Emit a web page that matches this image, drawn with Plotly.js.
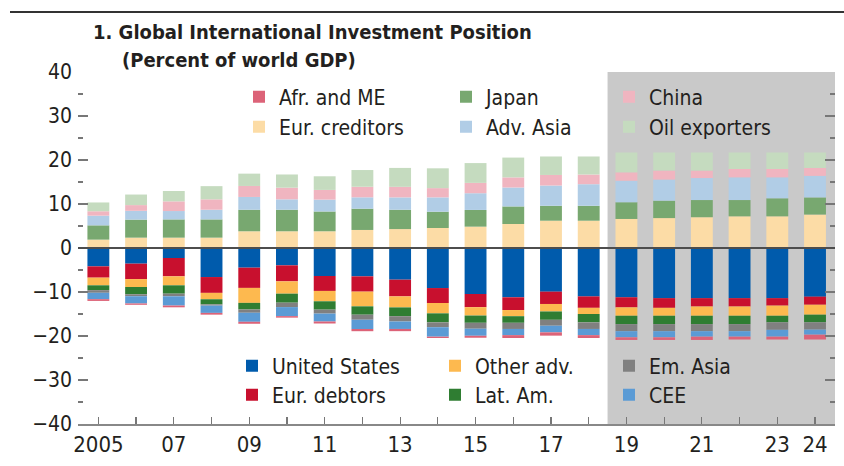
<!DOCTYPE html>
<html>
<head>
<meta charset="utf-8">
<script src="https://cdn.plot.ly/plotly-3.0.1.min.js"></script>
<style>html,body{margin:0;padding:0;background:#fff;}#chart{width:844px;height:466px;}</style>
</head>
<body>
<div id="chart"></div>
<script>
// ---- Data (percent of world GDP) ----
const years = [2005,2006,2007,2008,2009,2010,2011,2012,2013,2014,2015,2016,2017,2018,2019,2020,2021,2022,2023,2024];
const tickLabels = ['2005','','07','','09','','11','','13','','15','','17','','19','','21','','23','24'];

// Creditors (positive)
const eurCreditors = [1.9,2.35,2.35,2.35,3.8,3.8,3.8,4.1,4.3,4.55,4.85,5.45,6.2,6.2,6.6,6.8,7.0,7.2,7.2,7.6];
const japan        = [3.25,4.1,4.15,4.15,4.9,4.9,4.5,4.84,4.4,3.7,3.8,4.0,3.4,3.4,3.8,3.96,3.9,3.7,4.1,3.9];
const advAsia      = [2.2,2.0,1.9,2.2,2.9,2.36,2.7,2.58,2.8,3.26,3.8,4.3,4.6,4.9,4.9,4.8,5.0,5.16,4.76,4.9];
const china        = [1.0,1.3,2.2,2.36,2.5,2.65,2.2,2.4,2.4,2.1,2.35,2.3,2.4,2.2,1.9,2.05,1.7,1.9,1.9,1.8];
const oilExporters = [2.0,2.4,2.35,3.0,2.8,3.0,3.1,3.8,4.3,4.5,4.5,4.5,4.2,4.1,4.5,4.1,4.1,3.75,3.75,3.5];

// Debtors (negative)
const unitedStates = [-4.17,-3.56,-2.27,-6.6,-4.47,-3.94,-6.36,-6.44,-7.2,-9.1,-10.45,-11.2,-9.92,-11.0,-11.2,-11.4,-11.4,-11.4,-11.4,-11.06];
const eurDebtors   = [-2.57,-3.5,-4.17,-3.6,-4.6,-3.64,-3.4,-3.48,-3.8,-3.4,-3.0,-2.9,-2.8,-2.6,-2.3,-2.2,-1.9,-1.9,-1.7,-1.84];
const otherAdv     = [-1.74,-1.8,-2.04,-1.45,-3.4,-2.8,-2.35,-3.34,-2.5,-2.35,-1.9,-1.4,-1.7,-1.4,-1.9,-1.8,-2.1,-2.1,-2.3,-2.25];
const latAm        = [-1.1,-1.65,-1.9,-1.15,-1.5,-2.05,-1.9,-1.9,-2.0,-2.05,-1.65,-1.5,-1.9,-1.9,-1.9,-1.9,-1.9,-1.9,-1.5,-1.75];
const emAsia       = [-0.6,-0.45,-0.6,-0.3,-0.75,-1.0,-0.9,-1.15,-1.2,-1.1,-1.35,-1.4,-1.35,-1.5,-1.6,-1.6,-1.6,-1.6,-1.7,-1.66];
const cee          = [-1.45,-1.65,-2.1,-1.65,-2.05,-2.05,-1.8,-2.1,-1.7,-2.15,-1.6,-1.4,-1.5,-1.4,-1.4,-1.4,-1.25,-1.25,-1.55,-1.14];
const afrME        = [-0.4,-0.3,-0.4,-0.4,-0.45,-0.35,-0.45,-0.5,-0.5,-0.3,-0.45,-0.65,-0.75,-0.65,-0.6,-0.6,-0.75,-0.65,-0.65,-1.1];

// ---- Series definitions (stacking order = array order within each sign) ----
const FONT = "'Liberation Sans Narrow', 'Arial Narrow', 'DejaVu Sans Condensed', sans-serif";
const series = [
  {name:'United States', y:unitedStates, color:'#005bac', legend:'legend7'},
  {name:'Eur. debtors',  y:eurDebtors,   color:'#c8102e', legend:'legend10'},
  {name:'Other adv.',    y:otherAdv,     color:'#fdb94f', legend:'legend8'},
  {name:'Lat. Am.',      y:latAm,        color:'#2f7d32', legend:'legend11'},
  {name:'Em. Asia',      y:emAsia,       color:'#808080', legend:'legend9'},
  {name:'CEE',           y:cee,          color:'#5b9bd5', legend:'legend12'},
  {name:'Afr. and ME',   y:afrME,        color:'#dc6378', legend:'legend'},
  {name:'Eur. creditors',y:eurCreditors, color:'#fcdca6', legend:'legend4'},
  {name:'Japan',         y:japan,        color:'#78a870', legend:'legend2'},
  {name:'Adv. Asia',     y:advAsia,      color:'#b1cde6', legend:'legend5'},
  {name:'China',         y:china,        color:'#f0b5c0', legend:'legend3'},
  {name:'Oil exporters', y:oilExporters, color:'#c5dbbf', legend:'legend6'}
];

const traces = series.map(s => ({
  type:'bar', x:years, y:s.y, name:s.name, legend:s.legend, showlegend:true,
  marker:{color:s.color, line:{width:0}}, hoverinfo:'x+y+name'
}));

// legend placements (pixel centres in the 844x466 frame)
const plotL = 78, plotR = 835, plotT = 72, plotB = 424;
const pw = plotR - plotL, ph = plotB - plotT;
const legPos = {
  legend:  [259, 97],  legend2: [466, 97],  legend3: [629, 97],
  legend4: [259, 127], legend5: [466, 127], legend6: [629, 127],
  legend7: [252, 366], legend8: [455, 366], legend9: [629, 366],
  legend10:[252, 395], legend11:[455, 395], legend12:[629, 395]
};
const SYM_OFF = 20;

const layout = {
  width:844, height:466,
  margin:{l:plotL, r:844-plotR, t:plotT, b:466-plotB},
  paper_bgcolor:'#ffffff', plot_bgcolor:'rgba(0,0,0,0)',
  font:{family:FONT, size:21, color:'#231f20'},
  showlegend:true,
  barmode:'relative', bargap:0.42,
  title:{text:'<b>1. Global International Investment Position</b>',
         x:93/844, xanchor:'left', xref:'container',
         y:1-32/466, yanchor:'middle', yref:'container',
         font:{family:FONT, size:20, color:'#231f20'}},
  xaxis:{range:[2004.46, 2024.53], tickmode:'array', tickvals:years, ticktext:tickLabels,
         ticks:'inside', ticklen:7, tickcolor:'#777', tickwidth:1.2,
         showline:true, linecolor:'#888', linewidth:1.5, showgrid:false, zeroline:false,
         tickfont:{size:22}, fixedrange:true},
  yaxis:{range:[-40,40], tickvals:[-40,-30,-20,-10,0,10,20,30,40], tickmode:'array',
         ticks:'inside', ticklen:10, tickcolor:'#777', tickwidth:1.5, mirror:'ticks',
         minor:{tickvals:[-35,-25,-15,-5,5,15,25,35], ticks:'inside', ticklen:5, tickcolor:'#777', tickwidth:1.5},
         showline:false, showgrid:false, zeroline:false, tickfont:{size:21}, ticklabelstandoff:5, fixedrange:true},
  shapes:[
    {type:'rect', xref:'x', yref:'y', x0:2018.5, x1:2024.53, y0:-40, y1:40.85,
     fillcolor:'#c9c9c9', line:{width:0}, layer:'below'},
    {type:'line', xref:'paper', yref:'y', x0:0, x1:1, y0:0, y1:0,
     line:{color:'#4d4d4d', width:2}, layer:'above'},
    {type:'line', xref:'paper', yref:'paper', x0:(10-plotL)/pw, x1:(844-plotL)/pw,
     y0:(plotB-12)/ph, y1:(plotB-12)/ph, line:{color:'#333', width:2}}
  ],
  annotations:[
    {text:'<b>(Percent of world GDP)</b>', xref:'paper', yref:'paper',
     x:(120-plotL)/pw, y:(plotB-60)/ph, xanchor:'left', yanchor:'middle', showarrow:false,
     font:{family:FONT, size:20, color:'#231f20'}}
  ]
};

Object.keys(legPos).forEach(k => {
  const p = legPos[k];
  layout[k] = {x:(p[0]-SYM_OFF-plotL)/pw, xanchor:'left', y:(plotB-p[1])/ph, yanchor:'middle',
               bgcolor:'rgba(0,0,0,0)', borderwidth:0, font:{family:FONT, size:21, color:'#231f20'},
               orientation:'v', traceorder:'normal', visible:true};
});

Plotly.newPlot('chart', traces, layout, {staticPlot:true, displayModeBar:false});
</script>
</body>
</html>
